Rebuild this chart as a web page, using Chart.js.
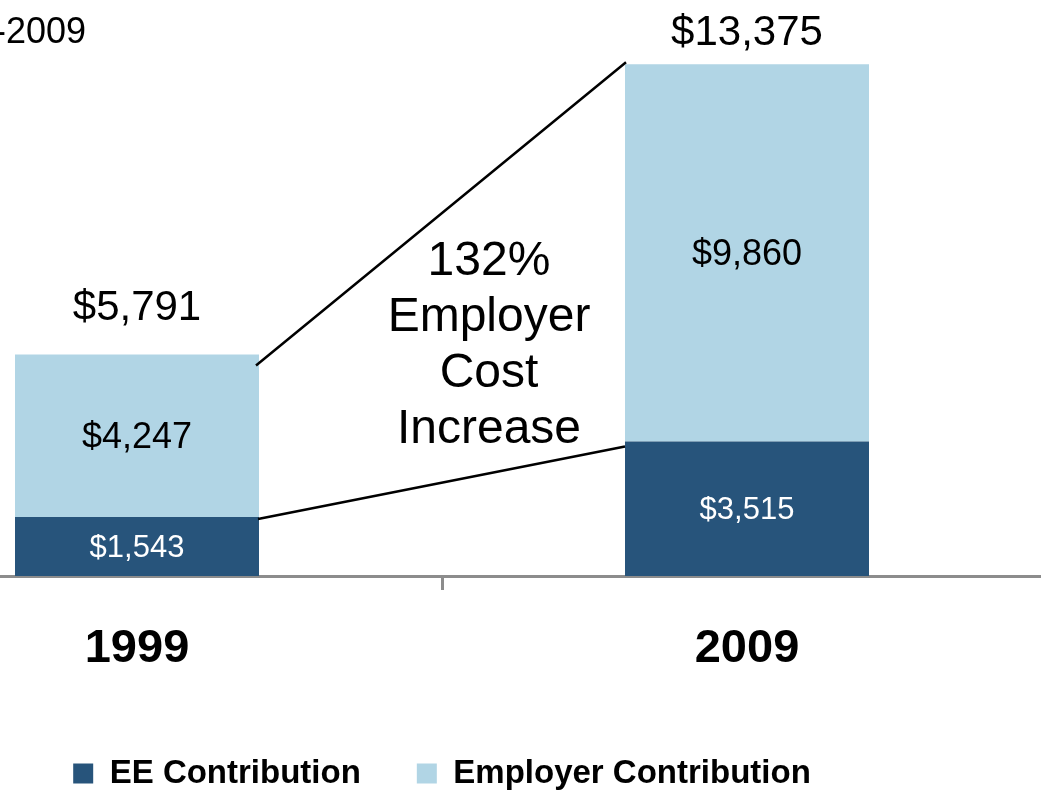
<!DOCTYPE html>
<html>
<head>
<meta charset="utf-8">
<script src="https://cdn.jsdelivr.net/npm/chart.js@4.4.1/dist/chart.umd.min.js"></script>
<style>
    html, body { margin: 0; padding: 0; width: 1041px; height: 793px; overflow: hidden; background: #fff; }
    /* the chart is wider than the window: the reference is a crop */
    #wrap { position: absolute; left: -168px; top: 0; width: 1220px; height: 800px; }
</style>
</head>
<body>
<div id="wrap"><canvas id="costChart"></canvas></div>
<script>
const categories = ['1999', '2009'];
const eeContribution = [1543, 3515];
const employerContribution = [4247, 9860];
const totalCost = [5791, 13375];

const FONT = '"Liberation Sans", Arial, sans-serif';
const EE_COLOR = '#27547b';
const EMPLOYER_COLOR = '#b1d5e5';

function formatMoney(v) {
    return '$' + v.toLocaleString('en-US');
}

// value labels, totals, connector lines and the note in the middle
const barLabels = {
    id: 'barLabels',
    afterDatasetsDraw(chart) {
        const ctx = chart.ctx;
        const ee = chart.getDatasetMeta(0).data;
        const er = chart.getDatasetMeta(1).data;
        ctx.save();
        ctx.textAlign = 'center';
        ctx.textBaseline = 'middle';

        ee.forEach((bar, i) => {
            ctx.font = '31px ' + FONT;
            ctx.fillStyle = '#ffffff';
            ctx.fillText(formatMoney(eeContribution[i]), bar.x, (bar.y + bar.base) / 2 + 2);
        });
        er.forEach((bar, i) => {
            ctx.font = '36px ' + FONT;
            ctx.fillStyle = '#000000';
            ctx.fillText(formatMoney(employerContribution[i]), bar.x, (bar.y + bar.base) / 2 + 2);
        });

        // totals above the bars
        const totalGap = [46, 31];
        er.forEach((bar, i) => {
            ctx.font = '42px ' + FONT;
            ctx.fillStyle = '#000000';
            ctx.fillText(formatMoney(totalCost[i]), bar.x, bar.y - totalGap[i]);
        });

        // connector lines between the bars
        const left = er[0], right = er[1];
        const lw = left.width / 2, rw = right.width / 2;
        ctx.strokeStyle = '#000000';
        ctx.lineWidth = 2.5;
        ctx.beginPath();
        ctx.moveTo(left.x + lw - 3, left.y + 11);
        ctx.lineTo(right.x - rw + 1, right.y - 2);
        ctx.moveTo(ee[0].x + lw - 1, ee[0].y + 2);
        ctx.lineTo(ee[1].x - rw, ee[1].y + 5);
        ctx.stroke();

        // note
        ctx.font = '48px ' + FONT;
        ctx.textBaseline = 'alphabetic';
        const note = ['132%', 'Employer', 'Cost', 'Increase'];
        note.forEach((line, i) => ctx.fillText(line, 657, 275 + i * 56));

        // cropped subtitle
        ctx.font = '36px ' + FONT;
        ctx.textAlign = 'right';
        ctx.fillText('1999-2009', 254, 43);
        ctx.restore();
    }
};

new Chart(document.getElementById('costChart'), {
    type: 'bar',
    data: {
        labels: categories,
        datasets: [
            {
                label: 'EE Contribution',
                data: eeContribution,
                backgroundColor: EE_COLOR,
                borderWidth: 0,
                categoryPercentage: 1,
                barPercentage: 0.4
            },
            {
                label: 'Employer Contribution',
                data: employerContribution,
                backgroundColor: EMPLOYER_COLOR,
                borderWidth: 0,
                categoryPercentage: 1,
                barPercentage: 0.4
            }
        ]
    },
    options: {
        responsive: true,
        maintainAspectRatio: false,
        devicePixelRatio: 1,
        animation: false,
        layout: { padding: { top: 2, left: 0, right: 0, bottom: 0 } },
        plugins: {
            tooltip: { enabled: false },
            legend: {
                position: 'bottom',
                labels: {
                    color: '#000',
                    font: { family: FONT, size: 33, weight: 'bold' },
                    boxWidth: 20,
                    boxHeight: 20,
                    padding: 56
                }
            }
        },
        scales: {
            x: {
                stacked: true,
                border: { display: true, color: '#8c8c8c', width: 3 },
                grid: {
                    display: true,
                    drawOnChartArea: false,
                    drawTicks: true,
                    tickLength: 14,
                    color: '#8c8c8c',
                    lineWidth: 3
                },
                ticks: {
                    color: '#000',
                    font: { family: FONT, size: 47, weight: 'bold' },
                    padding: 31
                },
                afterFit: (scale) => { scale.height = 125; }
            },
            y: {
                stacked: true,
                display: false,
                min: 0,
                max: 15000
            }
        }
    },
    plugins: [barLabels]
});
</script>
</body>
</html>
